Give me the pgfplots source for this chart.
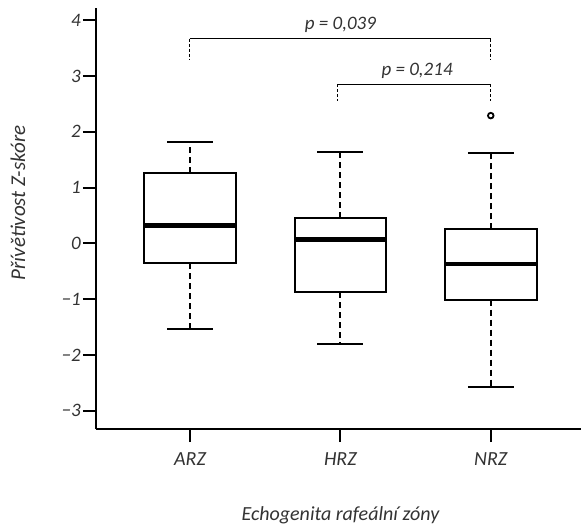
\documentclass[border=0pt]{standalone}
\usepackage{pgfplots}
\pgfplotsset{compat=1.18}
\usepgfplotslibrary{statistics}
\usepackage{fontspec}
\setmainfont{Carlito}

\definecolor{txt}{HTML}{333333}

\pgfplotsset{
  zbox/.style={
    solid, black, line width=2pt,
    boxplot/draw direction=y,
    boxplot/box extend=0.61,
    boxplot/whisker extend=0.305,
    boxplot/every median/.style={line width=4.5pt},
    boxplot/draw/lower whisker/.code={
      \draw[line width=2.2pt, dash pattern=on 6pt off 4pt]
        (boxplot box cs:\pgfplotsboxplotvalue{lower quartile},0.5) --
        (boxplot box cs:\pgfplotsboxplotvalue{lower whisker},0.5);
      \draw[line width=2pt, solid]
        (boxplot whisker cs:\pgfplotsboxplotvalue{lower whisker},0) --
        (boxplot whisker cs:\pgfplotsboxplotvalue{lower whisker},1);
    },
    boxplot/draw/upper whisker/.code={
      \draw[line width=2.2pt, dash pattern=on 6pt off 4pt]
        (boxplot box cs:\pgfplotsboxplotvalue{upper quartile},0.5) --
        (boxplot box cs:\pgfplotsboxplotvalue{upper whisker},0.5);
      \draw[line width=2pt, solid]
        (boxplot whisker cs:\pgfplotsboxplotvalue{upper whisker},0) --
        (boxplot whisker cs:\pgfplotsboxplotvalue{upper whisker},1);
    },
  },
}

\begin{document}
\begin{tikzpicture}
\begin{axis}[
  scale only axis, width=485pt, height=421pt,
  xmin=-0.625, xmax=2.6, ymin=-3.33, ymax=4.22,
  axis lines=left, axis line style={-, line width=2pt},
  xtick={0,1,2}, xticklabels={ARZ,HRZ,NRZ},
  ytick={-3,...,4}, yticklabels={−3,−2,−1,0,1,2,3,4},
  tick align=outside, major tick length=13pt,
  tick style={line width=2pt, black},
  yticklabel style={font=\itshape\fontsize{19}{20}\selectfont, text=txt, inner sep=2pt},
  xticklabel style={font=\itshape\fontsize{20}{22}\selectfont, text=txt, inner sep=2pt, yshift=-8pt},
  xlabel={Echogenita rafeální zóny},
  ylabel={Přívětivost Z-skóre},
  xlabel style={at={(axis description cs:0.504,0)}, anchor=center, yshift=-86pt,
    font=\itshape\fontsize{20}{22}\selectfont, text=txt},
  ylabel style={at={(axis description cs:0,0.537)}, anchor=center, rotate=0, yshift=78pt,
    font=\itshape\fontsize{21}{22}\selectfont, text=txt},
  clip=false,
]
% ARZ
\addplot[zbox, boxplot prepared={draw position=0,
  lower whisker=-1.54, lower quartile=-0.36, median=0.32,
  upper quartile=1.26, upper whisker=1.82}] coordinates {};
% HRZ
\addplot[zbox, boxplot prepared={draw position=1,
  lower whisker=-1.81, lower quartile=-0.88, median=0.07,
  upper quartile=0.46, upper whisker=1.64}] coordinates {};
% NRZ
\addplot[zbox, mark=o, mark size=2.8pt, mark options={solid, line width=1.8pt},
  boxplot prepared={draw position=2,
  lower whisker=-2.58, lower quartile=-1.01, median=-0.37,
  upper quartile=0.25, upper whisker=1.62}]
  table[row sep=\\, y index=0] {2.29\\};

% significance brackets
\addplot[line width=1pt, black] coordinates {(0,3.67) (2,3.67)};
\addplot[line width=1pt, black, dash pattern=on 3pt off 2pt] coordinates {(0,3.67) (0,3.30)};
\addplot[line width=1pt, black, dash pattern=on 3pt off 2pt] coordinates {(2,3.67) (2,3.30)};
\addplot[line width=1pt, black] coordinates {(0.98,2.85) (2,2.85)};
\addplot[line width=1pt, black, dash pattern=on 3pt off 2pt] coordinates {(0.98,2.85) (0.98,2.55)};
\addplot[line width=1pt, black, dash pattern=on 3pt off 2pt] coordinates {(2,2.85) (2,2.55)};
\node[font=\itshape\fontsize{19}{22}\selectfont, text=txt] at (axis cs:1,3.92) {p = 0,039};
\node[font=\itshape\fontsize{19}{22}\selectfont, text=txt] at (axis cs:1.51,3.09) {p = 0,214};

\path (rel axis cs:0,0) ++(-96pt,-97pt) coordinate (bl);
\path (rel axis cs:1,1) ++(0pt,8pt) coordinate (tr);
\end{axis}
\pgfresetboundingbox
\path (bl) rectangle (tr);
\end{tikzpicture}
\end{document}
